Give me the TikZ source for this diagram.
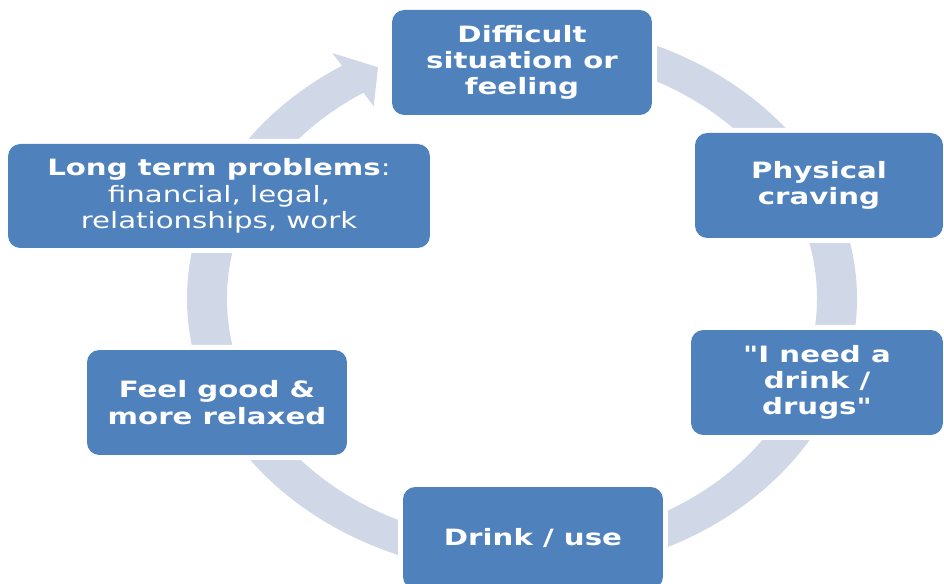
\documentclass[tikz,border=0pt]{standalone}
\usepackage{fontspec}
\newfontfamily\boxfont[FakeStretch=1.3,Ligatures=TeXOff]{DejaVu Sans}
\usepackage{xcolor}
\usepackage{tikz}
\definecolor{boxblue}{RGB}{79,129,189}
\definecolor{ringgrey}{RGB}{208,216,232}

\begin{document}
\begin{tikzpicture}[x=0.02cm,y=0.02cm,
    stage/.style={rectangle,rounded corners=7pt,fill=boxblue,text=white,
      preaction={draw=white,line width=5.7pt},
      minimum width=5.2cm,minimum height=2.1cm,inner sep=0pt,align=center,
      font=\boxfont\fontsize{12.8}{15}\selectfont\bfseries}]
    \useasboundingbox (0,0) rectangle (944,584);
    \begin{scope}[shift={(522,285.5)}]
      \fill[ringgrey] (95:335 and 276)
        arc[start angle=95,end angle=-237.5,x radius=335,y radius=276]
        -- (122.5:353 and 291) -- (117.2:315 and 260)
        -- (122.5:276 and 228) -- (122.5:295 and 244)
        arc[start angle=-237.5,end angle=95,x radius=295,y radius=244] -- cycle;
    \end{scope}
    \node[stage] (S) at (522,521.5) {Difficult\\situation or\\feeling};
    \node[stage,minimum width=4.96cm] (C) at (819,398.5) {Physical\\craving};
    \node[stage,minimum width=5.04cm] (N) at (817,201.5) {"I need a\\drink /\\drugs"};
    \node[stage,minimum height=2.04cm] (U) at (533,46) {Drink / use};
    \node[stage] (F) at (217,181.5) {Feel good \&\\more relaxed};
    \node[stage,minimum width=8.44cm,minimum height=2.08cm] (L) at (219,388)
      {Long term problems\mdseries:\\\mdseries financial, legal,\\\mdseries relationships, work};
\end{tikzpicture}
\end{document}
